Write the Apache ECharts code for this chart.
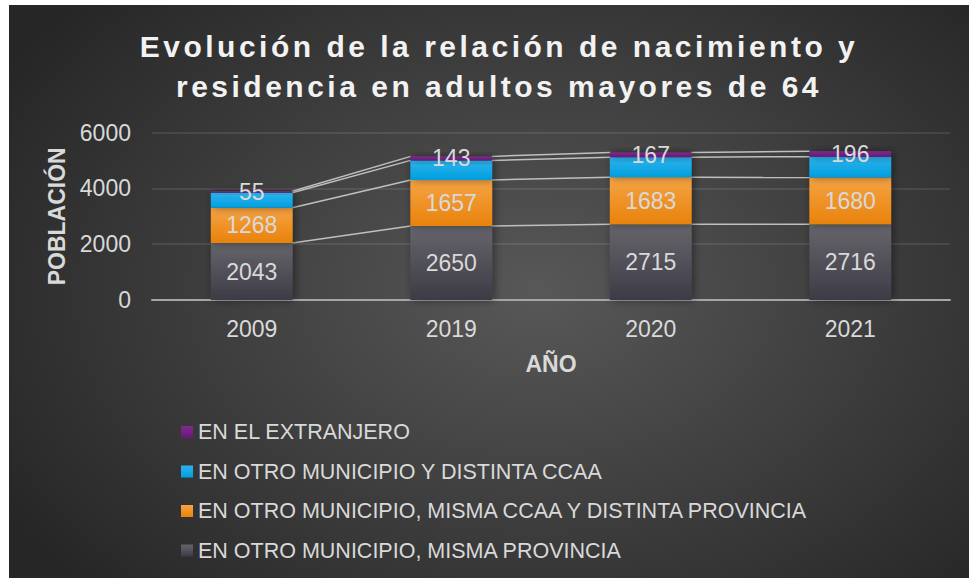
<!DOCTYPE html>
<html>
<head>
<meta charset="utf-8">
<style>
    html, body { margin: 0; height: 100%; background: #fff; overflow: hidden; }
    #chart {
        position: absolute;
        left: 9px; top: 5px;
        width: 960px; height: 573px;
        background: radial-gradient(ellipse 65% 75% at 55% 50%, #585858 0%, #3a3a3a 60%, #262626 100%);
    }
    /* title letter spacing (svg renderer) */
    #chart svg text[style*="30px"] { letter-spacing: 3.5px; }
</style>
<title>Evolución de la relación de nacimiento y residencia</title>
</head>
<body>
<div id="chart"></div>
<script src="https://cdn.jsdelivr.net/npm/echarts@6/dist/echarts.min.js"></script>
<script>
// datos
var years = ['2009', '2019', '2020', '2021'];
var mismaProvincia = [2043, 2650, 2715, 2716];
var mismaCcaa = [1268, 1657, 1683, 1680];
var distintaCcaa = [535, 700, 725, 745];
var extranjero = [55, 143, 167, 196];
var yTicks = [0, 2000, 4000, 6000];

var names = [
    'EN OTRO MUNICIPIO, MISMA PROVINCIA',
    'EN OTRO MUNICIPIO, MISMA CCAA Y DISTINTA PROVINCIA',
    'EN OTRO MUNICIPIO Y DISTINTA CCAA',
    'EN EL EXTRANJERO'
];
var values = [mismaProvincia, mismaCcaa, distintaCcaa, extranjero];
var colors = [
    ['#66656b', '#3d3b46'],
    ['#f6a445', '#e8820b'],
    ['#2db3ec', '#009fdf'],
    ['#7d2c8d', '#681878']
];
var showLabel = [true, true, false, true];

var txt = '#d9d9d9';
var font = 'Liberation Sans, Arial, sans-serif';

// series lines: cumulative tops between consecutive bars
var levels = [];
var acc = years.map(function () { return 0; });
values.forEach(function (arr) {
    acc = acc.map(function (a, i) { return a + arr[i]; });
    for (var i = 0; i < years.length - 1; i++) {
        levels.push([i, acc[i], acc[i + 1]]);
    }
});

var barSeries = values.map(function (arr, k) {
    return {
        name: names[k],
        type: 'bar',
        stack: 'total',
        barCategoryGap: '59%',
        data: arr,
        itemStyle: {
            color: new echarts.graphic.LinearGradient(0, 0, 0, 1, [
                {offset: 0, color: colors[k][0]},
                {offset: 1, color: colors[k][1]}
            ]),
            shadowColor: 'rgba(0,0,0,0.45)',
            shadowBlur: 8,
            shadowOffsetX: 2
        },
        label: {
            show: showLabel[k],
            position: 'inside',
            color: txt,
            fontSize: 23,
            fontFamily: font
        },
        emphasis: {disabled: true}
    };
});

var chart = echarts.init(document.getElementById('chart'), null, {renderer: 'svg'});
chart.setOption({
    animation: false,
    backgroundColor: 'transparent',
    title: {
        text: 'Evolución de la relación de nacimiento y\nresidencia en adultos mayores de 64',
        left: 490,
        top: 21,
        padding: 0,
        textAlign: 'center',
        textStyle: {
            color: '#f2f2f2',
            fontSize: 30,
            fontWeight: 'bold',
            fontFamily: font,
            lineHeight: 40
        }
    },
    legend: {
        orient: 'vertical',
        left: 167,
        top: 411,
        itemWidth: 12,
        itemHeight: 12,
        itemGap: 17.5,
        icon: 'rect',
        data: names.slice().reverse(),
        textStyle: {color: txt, fontSize: 21.5, fontFamily: font, lineHeight: 21}
    },
    grid: {left: 143, right: 19, top: 127.7, bottom: 278},
    xAxis: {
        type: 'category',
        data: years,
        name: 'AÑO',
        nameLocation: 'middle',
        nameGap: 52,
        nameTextStyle: {color: txt, fontSize: 23, fontWeight: 'bold', fontFamily: font},
        axisLine: {lineStyle: {color: '#a6a6a6', width: 2}},
        axisTick: {show: false},
        axisLabel: {color: txt, fontSize: 23, fontFamily: font, margin: 17}
    },
    yAxis: {
        type: 'value',
        min: yTicks[0],
        max: yTicks[yTicks.length - 1],
        interval: yTicks[1] - yTicks[0],
        name: 'POBLACIÓN',
        nameLocation: 'middle',
        nameRotate: 90,
        nameGap: 77,
        nameTextStyle: {color: txt, fontSize: 23, fontWeight: 'bold', fontFamily: font},
        axisLine: {show: false},
        axisTick: {show: false},
        axisLabel: {
            color: txt, fontSize: 23, fontFamily: font, margin: 21,
            formatter: function (v) { return String(v); }
        },
        splitLine: {lineStyle: {color: 'rgba(255,255,255,0.12)', width: 1.5}}
    },
    series: barSeries.concat([{
        type: 'custom',
        silent: true,
        data: levels,
        encode: {x: 0, y: 1},
        renderItem: function (params, api) {
            var p1 = api.coord([api.value(0), api.value(1)]);
            var p2 = api.coord([api.value(0) + 1, api.value(2)]);
            var half = api.size([1, 0])[0] * 0.203;
            return {
                type: 'line',
                shape: {x1: p1[0] + half, y1: p1[1], x2: p2[0] - half, y2: p2[1]},
                style: {stroke: '#bfbfbf', lineWidth: 1.5}
            };
        }
    }])
});
</script>
</body>
</html>
